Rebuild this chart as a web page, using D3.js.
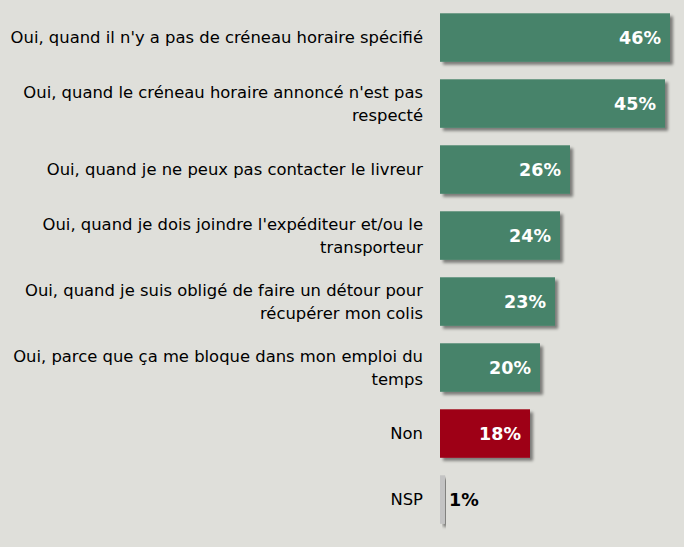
<!DOCTYPE html>
<html>
<head>
<meta charset="utf-8">
<script src="https://cdn.jsdelivr.net/npm/d3@7"></script>
<style>
  html, body { margin: 0; padding: 0; background: #dfdfda; }
  svg { display: block; }
</style>
</head>
<body>
<svg id="chart" width="684" height="547"></svg>
<script>
const categories = [
  ["Oui, quand il n'y a pas de créneau horaire spécifié"],
  ["Oui, quand le créneau horaire annoncé n'est pas", "respecté"],
  ["Oui, quand je ne peux pas contacter le livreur"],
  ["Oui, quand je dois joindre l'expéditeur et/ou le", "transporteur"],
  ["Oui, quand je suis obligé de faire un détour pour", "récupérer mon colis"],
  ["Oui, parce que ça me bloque dans mon emploi du", "temps"],
  ["Non"],
  ["NSP"]
];
const values = [46, 45, 26, 24, 23, 20, 18, 1];
const groups = ["oui", "oui", "oui", "oui", "oui", "oui", "non", "nsp"];
const colors = { oui: "#46836a", non: "#9e0016", nsp: "#c3c3c3" };

const W = 684, H = 547;
const svg = d3.select("#chart");
svg.append("rect").attr("width", W).attr("height", H).attr("fill", "#dfdfda");

const defs = svg.append("defs");
const f = defs.append("filter").attr("id", "shadow")
  .attr("x", "-10%").attr("y", "-20%").attr("width", "130%").attr("height", "150%");
f.append("feGaussianBlur").attr("in", "SourceAlpha").attr("stdDeviation", 1.6).attr("result", "b");
f.append("feOffset").attr("in", "b").attr("dx", 3).attr("dy", 3).attr("result", "o");
f.append("feComponentTransfer").attr("in", "o").attr("result", "o2")
  .append("feFuncA").attr("type", "linear").attr("slope", 0.45);
const m = f.append("feMerge");
m.append("feMergeNode").attr("in", "o2");
m.append("feMergeNode").attr("in", "SourceGraphic");

const x0 = 440;
const x = d3.scaleLinear().domain([0, 46]).range([x0, 670]);
const y = d3.scaleBand().domain(d3.range(values.length)).range([13.3, 523.8]).paddingInner(0.265).paddingOuter(0);

const rows = svg.selectAll("g.row").data(values).join("g").attr("class", "row");

rows.append("rect")
  .attr("x", x0)
  .attr("y", (d, i) => y(i))
  .attr("width", d => x(d) - x0)
  .attr("height", y.bandwidth())
  .attr("fill", (d, i) => colors[groups[i]])
  .attr("filter", "url(#shadow)");

rows.append("text")
  .attr("x", (d, i) => d < 5 ? x(d) + 4 : x(d) - 9)
  .attr("y", (d, i) => y(i) + y.bandwidth() / 2)
  .attr("dy", "0.36em")
  .attr("text-anchor", d => d < 5 ? "start" : "end")
  .attr("font-family", "DejaVu Sans, Verdana, sans-serif")
  .attr("font-weight", "bold")
  .attr("font-size", 17.5)
  .attr("fill", d => d < 5 ? "#000" : "#fff")
  .text(d => d + "%");

const lh = 23.5;
rows.each(function(d, i) {
  const lines = categories[i];
  const cy = y(i) + y.bandwidth() / 2;
  const t = d3.select(this).append("text")
    .attr("text-anchor", "end")
    .attr("font-family", "DejaVu Sans, Verdana, sans-serif")
    .attr("font-size", 16.4)
    .attr("fill", "#000");
  lines.forEach((ln, k) => {
    t.append("tspan")
      .attr("x", 423)
      .attr("y", cy + (k - (lines.length - 1) / 2) * lh)
      .attr("dy", "0.36em")
      .text(ln);
  });
});
</script>
</body>
</html>
